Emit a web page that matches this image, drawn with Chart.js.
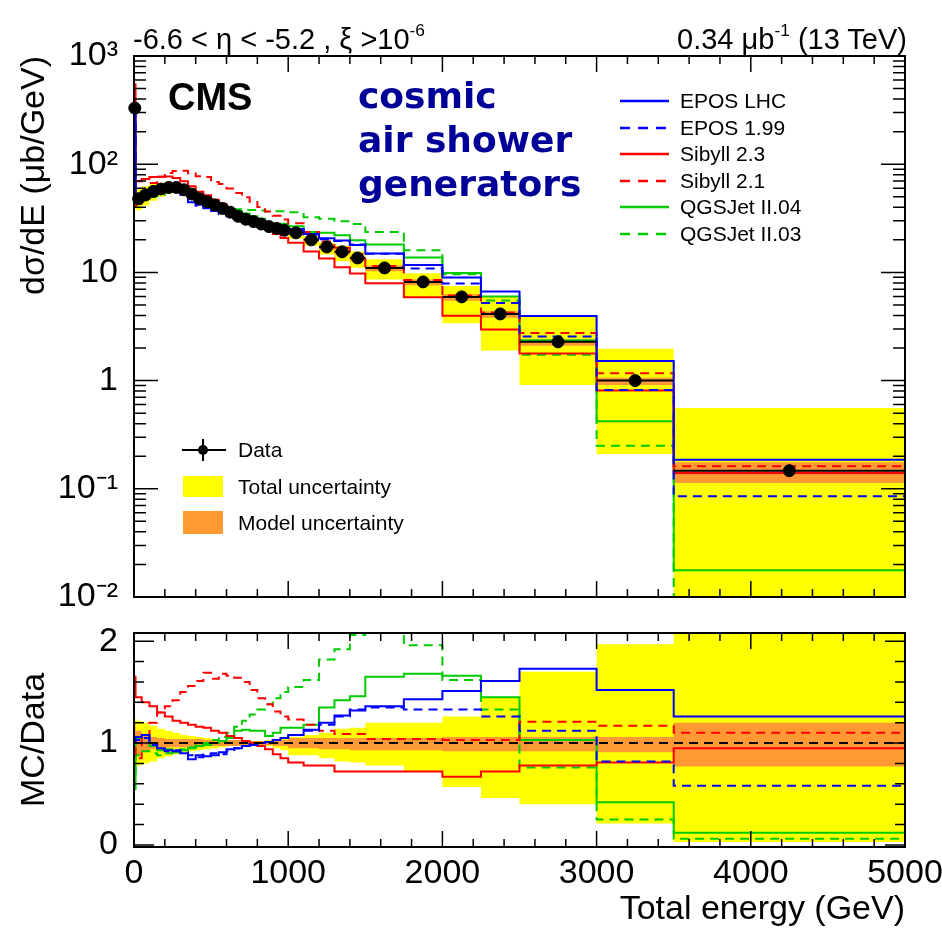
<!DOCTYPE html>
<html>
<head>
<meta charset="utf-8">
<script src="https://cdn.jsdelivr.net/npm/chart.js@4.4.1/dist/chart.umd.min.js"></script>
<style>
  body { margin: 0; background: #fff; }
  #page { position: relative; width: 942px; height: 930px; overflow: hidden; font-family: "Liberation Sans", Arial, sans-serif; }
  canvas { position: absolute; left: 0; }
  .txt { position: absolute; white-space: nowrap; color: #000; line-height: 1; transform: translateY(-50%); }
  .txt sup { font-size: 0.6em; vertical-align: 0.7em; }
  .cosmic { position: absolute; left: 358px; top: 74px; color: #000099; font: bold 36px/44px "DejaVu Sans", sans-serif; }
  .leg { position: absolute; display: flex; align-items: center; font-size: 21px; height: 24px; transform: translateY(-50%); }
  .leg svg { margin-right: 10px; }
</style>
</head>
<body>
<div id="page">
  <canvas id="topChart" width="942" height="620" style="top:0"></canvas>
  <canvas id="ratioChart" width="942" height="310" style="top:620px"></canvas>

  <div class="txt" style="left:133px; top:38px; font-size:29px;">-6.6 &lt; η &lt; -5.2 , ξ &gt;10<sup>-6</sup></div>
  <div class="txt" style="right:35px; top:38px; font-size:29px;">0.34 μb<sup>-1</sup> (13 TeV)</div>
  <div class="txt" style="left:168px; top:97px; font-size:38px; font-weight:bold;">CMS</div>
  <div class="cosmic">cosmic<br>air shower<br>generators</div>
  <div id="modelLegend"></div>
  <div id="dataLegend"></div>
</div>

<script>
// bin edges in GeV
const edges = [0, 10, 50, 100, 150, 200, 250, 300, 350, 400, 450, 500, 550, 600, 650, 700, 750, 800, 850, 900, 950,
               1000, 1100, 1200, 1300, 1400, 1500, 1750, 2000, 2250, 2500, 3000, 3500, 5000];

// measured dsigma/dE (ub/GeV), one per bin
const dataVals = [330, 48, 52, 56, 59, 61, 61, 58, 53, 48, 45, 42, 39, 36, 33, 31, 29.5, 28, 26.5, 25.5, 24.5,
                  23.2, 20.0, 17.2, 15.5, 13.6, 11.0, 8.17, 5.94, 4.13, 2.28, 1.0, 0.147];

// MC/Data ratios per bin
const eposLhc = [1.0, 1.06, 1.08, 1.0, 0.95, 0.93, 0.92, 0.90, 0.84, 0.88, 0.87, 0.88, 0.91, 0.94, 0.95, 0.97, 0.98, 1.0, 1.01, 1.03, 1.05,
                 1.08, 1.13, 1.20, 1.27, 1.32, 1.36, 1.43, 1.51, 1.61, 1.73, 1.52, 1.26];
const epos199 = [1.0, 1.03, 1.05, 0.98, 0.94, 0.92, 0.93, 0.91, 0.88, 0.86, 0.89, 0.90, 0.89, 0.92, 0.95, 0.97, 0.99, 1.0, 1.01, 1.03, 1.05,
                 1.08, 1.12, 1.18, 1.26, 1.33, 1.35, 1.33, 1.33, 1.26, 1.12, 0.82, 0.58];
const sibyll23 = [1.65, 1.45, 1.40, 1.36, 1.30, 1.26, 1.22, 1.20, 1.18, 1.16, 1.15, 1.12, 1.10, 1.07, 1.05, 1.02, 1.0, 0.97, 0.94, 0.89, 0.85,
                  0.81, 0.78, 0.78, 0.72, 0.72, 0.72, 0.72, 0.67, 0.72, 0.78, 0.81, 0.95];
const sibyll21 = [0.95, 0.85, 1.05, 1.20, 1.30, 1.36, 1.42, 1.50, 1.56, 1.61, 1.69, 1.63, 1.68, 1.66, 1.64, 1.60, 1.52, 1.44, 1.38, 1.31, 1.26,
                  1.23, 1.18, 1.12, 1.09, 1.09, 1.04, 1.04, 1.03, 1.03, 1.21, 1.17, 1.10];
const qgsjet04 = [0.55, 1.05, 1.08, 0.97, 0.93, 0.94, 0.91, 0.93, 0.95, 0.97, 0.98, 1.0, 1.02, 1.05, 1.12, 1.13, 1.12, 1.12, 1.07, 1.10, 1.15,
                  1.15, 1.18, 1.35, 1.42, 1.46, 1.65, 1.68, 1.66, 1.45, 1.03, 0.42, 0.12];
const qgsjet03 = [0.7, 0.88, 0.92, 0.90, 0.88, 0.90, 0.92, 0.94, 0.96, 0.98, 1.0, 1.03, 1.06, 1.10, 1.16, 1.22, 1.28, 1.33, 1.38, 1.44, 1.50,
                  1.55, 1.62, 1.82, 1.92, 2.06, 2.15, 1.96, 1.62, 1.33, 0.76, 0.25, 0.06];

// relative uncertainty bands (upper / lower edge, relative to data)
const totalHi = [1.25, 1.22, 1.20, 1.17, 1.14, 1.12, 1.10, 1.08, 1.07, 1.06, 1.05, 1.04, 1.03, 1.03, 1.02, 1.02, 1.02, 1.02, 1.03, 1.04, 1.05,
                 1.06, 1.08, 1.10, 1.14, 1.15, 1.20, 1.20, 1.26, 1.45, 1.70, 1.97, 3.8];
const totalLo = [0.77, 0.78, 0.80, 0.82, 0.85, 0.87, 0.89, 0.91, 0.92, 0.93, 0.94, 0.95, 0.96, 0.97, 0.97, 0.98, 0.98, 0.98, 0.97, 0.95, 0.93,
                 0.88, 0.88, 0.85, 0.82, 0.81, 0.78, 0.72, 0.57, 0.46, 0.40, 0.21, 0.03];
const modelHi = [1.20, 1.12, 1.08, 1.06, 1.05, 1.04, 1.04, 1.04, 1.04, 1.04, 1.03, 1.03, 1.03, 1.03, 1.03, 1.02, 1.02, 1.02, 1.02, 1.03, 1.03,
                 1.05, 1.05, 1.05, 1.05, 1.05, 1.05, 1.05, 1.06, 1.06, 1.06, 1.06, 1.20];
const modelLo = [0.85, 0.88, 0.92, 0.94, 0.95, 0.96, 0.96, 0.96, 0.96, 0.96, 0.97, 0.97, 0.97, 0.97, 0.97, 0.98, 0.98, 0.98, 0.98, 0.97, 0.97,
                 0.95, 0.95, 0.94, 0.94, 0.93, 0.93, 0.93, 0.92, 0.92, 0.92, 0.91, 0.77];

const modelNames = ['EPOS LHC', 'EPOS 1.99', 'Sibyll 2.3', 'Sibyll 2.1', 'QGSJet II.04', 'QGSJet II.03'];
const modelRatios = [eposLhc, epos199, sibyll23, sibyll21, qgsjet04, qgsjet03];
const modelColors = ['#0000ff', '#0000ff', '#ff0000', '#ff0000', '#00cc00', '#00cc00'];
const modelDashed = [false, true, false, true, false, true];

// axis ticks
const xTicks = [0, 1000, 2000, 3000, 4000, 5000];
const xTickLabels = ['0', '1000', '2000', '3000', '4000', '5000'];
const yTopTicks = [0.01, 0.1, 1, 10, 100, 1000];
const yTopLabels = ['10⁻²', '10⁻¹', '1', '10', '10²', '10³'];
const yRatioTicks = [0, 1, 2];
const yRatioLabels = ['0', '1', '2'];

const FONT = '"Liberation Sans", Arial, sans-serif';
Chart.defaults.font.family = FONT;
Chart.defaults.color = '#000';

const YELLOW = '#ffff00';
const ORANGE = '#ff9933';
const DASH = [9, 6];

// minor tick positions
const xMinor = [];
for (let v = 200; v < 5000; v += 200) if (v % 1000) xMinor.push(v);
const yTopMinor = [];
[0.01, 0.1, 1, 10, 100].forEach(d => { for (let k = 2; k <= 9; k++) yTopMinor.push(d * k); });
const yRatioMinor = [0.2, 0.4, 0.6, 0.8, 1.2, 1.4, 1.6, 1.8];

// ROOT-like frame with inward ticks on all sides
const rootFrame = {
  id: 'rootFrame',
  afterDraw(chart, args, o) {
    const { ctx, chartArea: a } = chart;
    const sx = chart.scales.x, sy = chart.scales.y;
    ctx.save();
    ctx.strokeStyle = '#000';
    ctx.lineWidth = 1.5;
    ctx.beginPath();
    const xt = (vals, len) => vals.forEach(v => {
      const p = sx.getPixelForValue(v);
      ctx.moveTo(p, a.bottom); ctx.lineTo(p, a.bottom - len);
      ctx.moveTo(p, a.top); ctx.lineTo(p, a.top + len);
    });
    const yt = (vals, len) => vals.forEach(v => {
      const p = sy.getPixelForValue(v);
      ctx.moveTo(a.left, p); ctx.lineTo(a.left + len, p);
      ctx.moveTo(a.right, p); ctx.lineTo(a.right - len, p);
    });
    xt(o.xMajor, o.xLen[0]); xt(o.xMinor, o.xLen[1]);
    yt(o.yMajor, o.yLen[0]); yt(o.yMinor, o.yLen[1]);
    ctx.stroke();
    ctx.lineWidth = 2;
    ctx.strokeRect(a.left, a.top, a.right - a.left, a.bottom - a.top);
    ctx.restore();
  }
};

// each value holds from its left edge to the next edge
function histPoints(vals) {
  return edges.map((e, i) => ({ x: e, y: vals[Math.min(i, vals.length - 1)] }));
}
function histDs(label, vals, color, dashed) {
  return { label, data: histPoints(vals), borderColor: color, borderWidth: 2, borderDash: dashed ? DASH : [],
           stepped: 'before', pointRadius: 0, fill: false };
}
function bandDs(vals, color, fillTo) {
  return { data: histPoints(vals), stepped: 'before', borderWidth: 0, borderColor: 'rgba(0,0,0,0)',
           pointRadius: 0, backgroundColor: color, fill: fillTo };
}
const times = r => r.map((v, i) => v * dataVals[i]);

// ---------- upper panel ----------
const centers = dataVals.map((v, i) => ({ x: (edges[i] + edges[i + 1]) / 2, y: v }));
const dataBars = [];
dataVals.forEach((v, i) => {
  dataBars.push({ x: edges[i], y: v }, { x: edges[i + 1], y: v }, { x: edges[i + 1], y: null });
});

const topSets = [
  { data: centers, showLine: false, pointRadius: 6, pointBackgroundColor: '#000', pointBorderColor: '#000', clip: false },
  { data: dataBars, borderColor: '#000', borderWidth: 2, pointRadius: 0, spanGaps: false, fill: false }
];
modelNames.forEach((n, i) => topSets.push(histDs(n, times(modelRatios[i]), modelColors[i], modelDashed[i])));
topSets.push(bandDs(times(modelHi), ORANGE, '+1'), bandDs(times(modelLo), ORANGE, false));
topSets.push(bandDs(times(totalHi), YELLOW, '+1'), bandDs(times(totalLo), YELLOW, false));

new Chart(document.getElementById('topChart'), {
  type: 'line',
  data: { datasets: topSets },
  plugins: [rootFrame],
  options: {
    responsive: false,
    animation: false,
    layout: { padding: { left: 0, right: 37, top: 56, bottom: 23 } },
    plugins: {
      legend: { display: false },
      tooltip: { enabled: false },
      rootFrame: { xMajor: xTicks, xMinor: xMinor, xLen: [16, 8], yMajor: yTopTicks, yMinor: yTopMinor, yLen: [24, 12] }
    },
    scales: {
      x: { type: 'linear', min: 0, max: 5000, display: false },
      y: {
        type: 'logarithmic', min: 0.01, max: 1000,
        afterBuildTicks: s => { s.ticks = yTopTicks.map(v => ({ value: v })); },
        afterFit: s => { s.width = 134; s.paddingTop = 0; s.paddingBottom = 0; },
        grid: { display: false, drawTicks: false },
        border: { display: false },
        ticks: { padding: 16, autoSkip: false, font: { size: 34 }, callback: (v, i) => yTopLabels[i] },
        title: { display: true, text: 'dσ/dE (μb/GeV)', align: 'end', font: { size: 34 }, padding: { top: 14, bottom: 0 } }
      }
    }
  }
});

// ---------- ratio panel ----------
const ratioSets = [
  { data: [{ x: 0, y: 1 }, { x: 5000, y: 1 }], borderColor: '#000', borderWidth: 2, borderDash: DASH, pointRadius: 0, fill: false }
];
modelNames.forEach((n, i) => ratioSets.push(histDs(n, modelRatios[i], modelColors[i], modelDashed[i])));
ratioSets.push(bandDs(modelHi, ORANGE, '+1'), bandDs(modelLo, ORANGE, false));
ratioSets.push(bandDs(totalHi, YELLOW, '+1'), bandDs(totalLo, YELLOW, false));

new Chart(document.getElementById('ratioChart'), {
  type: 'line',
  data: { datasets: ratioSets },
  plugins: [rootFrame],
  options: {
    responsive: false,
    animation: false,
    layout: { padding: { left: 0, right: 37, top: 13, bottom: 0 } },
    plugins: {
      legend: { display: false },
      tooltip: { enabled: false },
      rootFrame: { xMajor: xTicks, xMinor: xMinor, xLen: [16, 8], yMajor: yRatioTicks, yMinor: yRatioMinor, yLen: [20, 10] }
    },
    scales: {
      x: {
        type: 'linear', min: 0, max: 5000,
        afterBuildTicks: s => { s.ticks = xTicks.map(v => ({ value: v })); },
        afterFit: s => { s.height = 83; s.paddingLeft = 0; s.paddingRight = 0; },
        grid: { display: false, drawTicks: false },
        border: { display: false },
        ticks: { padding: 6, autoSkip: false, maxRotation: 0, font: { size: 34 }, callback: (v, i) => xTickLabels[i] },
        title: { display: true, text: 'Total energy (GeV)', align: 'end', font: { size: 34 }, padding: { top: 0, bottom: 0 } }
      },
      y: {
        min: -0.02, max: 2.08,
        afterBuildTicks: s => { s.ticks = yRatioTicks.map(v => ({ value: v })); },
        afterFit: s => { s.width = 134; s.paddingTop = 0; s.paddingBottom = 0; },
        grid: { display: false, drawTicks: false },
        border: { display: false },
        ticks: { padding: 16, autoSkip: false, font: { size: 34 }, callback: (v, i) => yRatioLabels[i] },
        title: { display: true, text: 'MC/Data', align: 'center', font: { size: 34 }, padding: { top: 14, bottom: 0 } }
      }
    }
  }
});

// ---------- legends ----------
const modelLegend = document.getElementById('modelLegend');
modelNames.forEach((n, i) => {
  const row = document.createElement('div');
  row.className = 'leg';
  row.style.left = '620px';
  row.style.top = (101 + i * 26.6) + 'px';
  row.innerHTML = '<svg width="50" height="6"><line x1="0" y1="3" x2="49" y2="3" stroke="' + modelColors[i] +
    '" stroke-width="2.5"' + (modelDashed[i] ? ' stroke-dasharray="10 8"' : '') + '/></svg><span>' + n + '</span>';
  modelLegend.appendChild(row);
});

const dataLegend = document.getElementById('dataLegend');
const dataRows = [
  { y: 450, label: 'Data', svg: '<svg width="46" height="24"><line x1="0" y1="12" x2="44" y2="12" stroke="#000" stroke-width="2"/>' +
      '<line x1="21" y1="1" x2="21" y2="23" stroke="#000" stroke-width="2"/><circle cx="21" cy="12" r="5" fill="#000"/></svg>' },
  { y: 487, label: 'Total uncertainty', svg: '<svg width="46" height="22"><rect x="1" y="0" width="40" height="21" fill="' + YELLOW + '"/></svg>' },
  { y: 523, label: 'Model uncertainty', svg: '<svg width="46" height="24"><rect x="1" y="0" width="40" height="23" fill="' + ORANGE + '"/></svg>' }
];
dataRows.forEach(r => {
  const row = document.createElement('div');
  row.className = 'leg';
  row.style.left = '182px';
  row.style.top = r.y + 'px';
  row.innerHTML = r.svg + '<span>' + r.label + '</span>';
  dataLegend.appendChild(row);
});
</script>
</body>
</html>
